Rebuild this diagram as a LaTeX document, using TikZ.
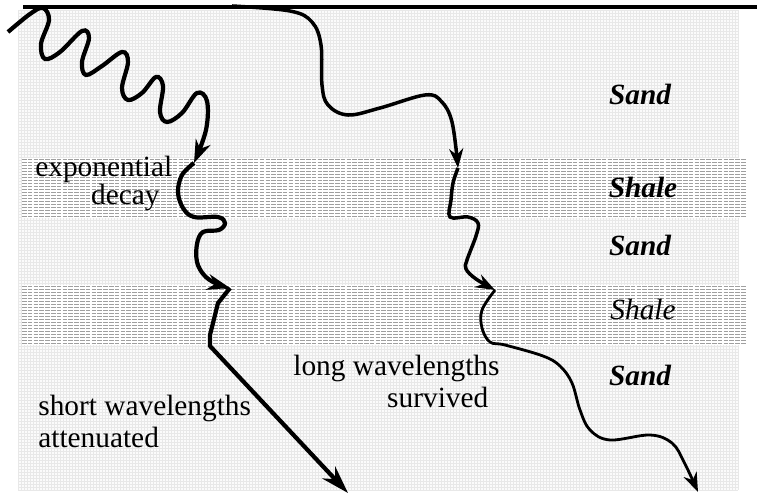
\documentclass[tikz,border=0pt]{standalone}
\usepackage{fontspec}
\setmainfont{Liberation Serif}
\usepackage{tikz}
\usetikzlibrary{arrows.meta}

\begin{document}
\begin{tikzpicture}[x=0.02cm,y=-0.02cm,
  rock/.style={font=\fontsize{16.7}{18}\selectfont\bfseries\itshape, anchor=base, inner sep=0pt},
  note/.style={font=\fontsize{16.7}{18}\selectfont, align=left, anchor=base west, inner sep=0pt},
  ray/.style={line width=2.4pt, -{Stealth[length=13pt,width=9pt]}},
  longray/.style={line width=2pt, -{Stealth[length=11pt,width=8pt]}}]
\useasboundingbox (0,0) rectangle (757,496);

% sand: fine grid
\fill[gray!3] (18,10) rectangle (738,490);
\foreach \x in {18,21,...,738}
	\draw[gray!18, line width=0.15pt] (\x,10) -- (\x,490);
\foreach \y in {10,13,...,490}
	\draw[gray!18, line width=0.15pt] (18,\y) -- (738,\y);

% shale beds: dashed lines
\foreach \top in {158,285}{
	\fill[white] (22,\top) rectangle (746,\top+60);
	\foreach \y in {1,4,...,58}
		\draw[gray!75, line width=0.55pt, dash pattern=on 2.6pt off 0.7pt] (22,\top+\y) -- (746,\top+\y);
}

% short wavelength ray
\draw[ray] plot[smooth, tension=0.6] coordinates {(8,32) (30,14) (43,8) (49,20) (41,44) (45,59) (60,52) (82,31) (89,38) (82,62) (86,75) (102,66) (122,52) (128,62) (122,88) (128,100) (142,93) (156,77) (163,86) (160,112) (167,122) (182,113) (197,93) (207,101) (206,130) (194,163)};
\draw[ray] plot[smooth, tension=0.6] coordinates {(194,163) (182,175) (178,192) (183,208) (194,217) (218,217) (225,223) (219,230) (203,232) (197,244) (197,262) (204,275) (215,283) (230,288)};
\draw[ray, -{Stealth[length=16pt,width=10pt]}] (230,288) -- (218,303) -- (210,335) -- (210,346) -- (348,493);

% long wavelength ray
\draw[longray] plot[smooth, tension=0.6] coordinates {(232,6) (290,11) (312,22) (321,45) (322,85) (328,105) (348,115) (380,108) (425,95) (441,101) (452,122) (458,168)};
\draw[longray] plot[smooth, tension=0.6] coordinates {(458,168) (453,183) (451,200) (450,217) (468,217) (478,223) (476,236) (467,260) (466,269) (476,279) (495,290)};
\draw[longray, line width=1.6pt] plot[smooth, tension=0.6] coordinates {(495,290) (482,310) (482,328) (490,342) (505,345) (543,356) (560,366) (572,383) (580,410) (590,430) (610,440) (650,435) (672,443) (684,462) (698,492)};

% surface
\draw[line width=2.4pt] (23,7) -- (757,7);

\node[rock] (sand1) at (640,105) {Sand};
\node[rock] (shale1) at (643,198) {Shale};
\node[rock] (sand2) at (640,256) {Sand};
\node[rock, font=\fontsize{16.7}{18}\selectfont\itshape] (shale2) at (643,320) {Shale};
\node[rock] (sand3) at (640,385) {Sand};

\node[note, font=\fontsize{16.7}{13}\selectfont] (decay) at (35,205) {exponential\\\hspace*{1.9em}decay};
\node[note] (short) at (38,447) {short wavelengths\\attenuated};
\node[note] (long) at (293,407) {long wavelengths\\\hspace*{3.2em}survived};

\end{tikzpicture}
\end{document}
